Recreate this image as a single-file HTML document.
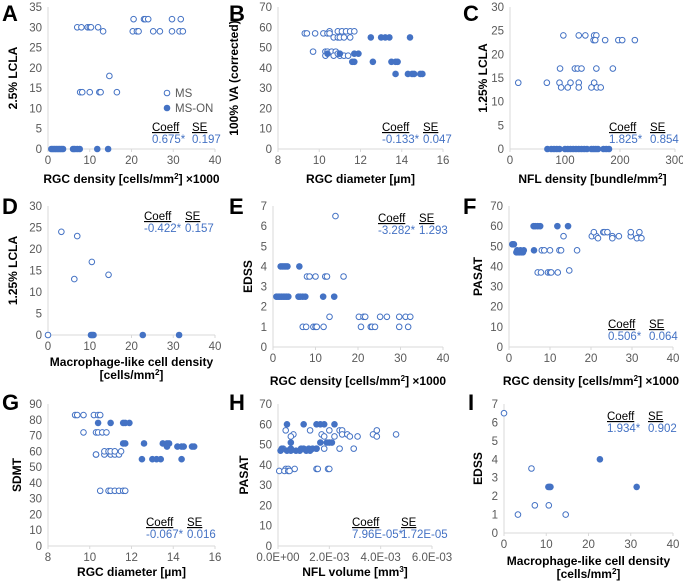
<!DOCTYPE html>
<html><head><meta charset="utf-8"><style>
html,body{margin:0;padding:0;background:#fff;}
svg{display:block;font-family:"Liberation Sans",sans-serif;}
.tk{font-size:11.5px;fill:#595959;}
.at{font-size:12px;font-weight:bold;fill:#000;}
.pl{font-size:22px;font-weight:bold;fill:#000;}
.cf{font-size:11.5px;fill:#4472c4;}
.ch{font-size:11.5px;fill:#000;text-decoration:underline;}
</style></head><body>
<svg id="fig" width="683" height="581" viewBox="0 0 683 581"></svg>
<script>
// Panel A: RGC density vs 2.5% LCLA
const aMsX=[7,8,9.5,10,10.3,12,13.2,20.5,23,23.3,24,29.7,31.8,20.3,21.3,21.7,25.2,26.8,29.7,31.5,32.3,14.7,7.7,8.2,10,12.3,12.6,16.5];
const aMsY=[30,30,30,30,30,30,29,32,32,32,32,32,32,29,29,29,29,29,29,29,29,18,14,14,14,14,14,14];
const aOnX=[0.8,1.2,1.6,2,2.4,2.8,3.2,3.6,6,6.4,7,7.6,11.8,14.4];
const aOnY=[0,0,0,0,0,0,0,0,0,0,0,0,0,0];
// Panel B
const bMsX=[9.3,9.4,9.8,10.2,10.4,10.5,10.5,10.9,11.1,11.3,11.5,11.7,10.7,10.9,11.0,11.2,11.5,9.7,10.3,10.4,10.6,10.8,10.3,10.7,11,11.2,11.4,10.9];
const bMsY=[57,57,57,57,57,58,57,58,58,58,58,58,55,55,55,55,55,48,48,48,48,48,46,46,46,46,46,47];
const bOnX=[10.4,11.0,11.7,11.9,11.6,11.7,12.6,12.5,13,13.2,13.4,14.4,13.5,13.7,13.8,13.7,14.3,14.5,14.6,14.9,15];
const bOnY=[47,47,47,47,43,43,43,55,55,55,55,55,43,43,43,37,37,37,37,37,37];
// Panel C
const cMsX=[15,67,90,110,125,153,93,105,125,148,158,165,91,118,123,130,157,187,97,125,137,153,157,152,155,173,197,204,227];
const cMsY=[14,14,14,14,14,14,13,13,13,13,13,13,17,17,17,17,17,17,24,24,24,24,24,23,23,23,23,23,23];
const cOnX=[68,75,80,85,90,100,105,110,115,120,125,130,135,140,148,152,156,160,170,175,180];
const cOnY=[0,0,0,0,0,0,0,0,0,0,0,0,0,0,0,0,0,0,0,0,0];
// Panel D
const dMsX=[0,3.2,7,10.5,6.3,14.5];
const dMsY=[0,24,23,17,13,14];
const dOnX=[10.3,10.6,10.9,22.7,31.4];
const dOnY=[0,0,0,0,0];
// Panel E
const eMsX=[14.7,8,8.6,10,12.3,12.7,16.6,13.3,20.2,21.3,21.7,25.2,26.8,29.7,31.2,32.3,7,7.8,9.5,10,10.3,11.9,20.7,23,23.3,24,29.7,31.8];
const eMsY=[6.5,3.5,3.5,3.5,3.5,3.5,3.5,1.5,1.5,1.5,1.5,1.5,1.5,1.5,1.5,1.5,1,1,1,1,1,1,1,1,1,1,1,1];
const eOnX=[1.8,2.2,2.6,3,3.4,6.2,0.8,1.2,1.6,2,2.4,2.8,3.2,3.6,6,6.4,7,7.6,11.8,14.4];
const eOnY=[4,4,4,4,4,4,2.5,2.5,2.5,2.5,2.5,2.5,2.5,2.5,2.5,2.5,2.5,2.5,2.5,2.5];
// Panel F
const fMsX=[7,7.8,9.5,10,10.3,11.9,14.7,13.3,8,8.6,10,12.3,12.7,16.6,20.2,21.3,25.2,26.8,29.7,20.7,23,23.3,24,29.7,31.8,21.7,25.2,31.2,32.3];
const fMsY=[37,37,37,37,37,37,38,55,48,48,48,48,48,48,55,55,55,55,55,57,57,57,57,57,57,54,54,54,54];
const fOnX=[6,6.4,7,7.6,11.8,14.4,0.8,1.2,6.1,1.8,2.2,2.6,3,3.4,2,2.8,3.6];
const fOnY=[60,60,60,60,60,60,51,51,48,47,47,47,47,47,48,48,48];
// Panel G
const gMsX=[9.3,9.4,9.7,10.2,10.4,10.5,9.7,10.3,10.4,10.6,10.8,10.3,10.3,10.7,11,11.2,11.4,10.7,10.9,11,11.2,11.5,10.5,10.9,11,11.2,11.4,11.6,11.7];
const gMsY=[83,83,83,83,83,83,72,72,72,72,72,58,58,58,58,58,58,60,60,60,60,60,35,35,35,35,35,35,35];
const gOnX=[10.4,11,11.6,11.7,11.9,11.6,11.7,12.6,13.5,13.7,13.8,13.7,14.2,14.4,14.5,14.9,15,12.5,13,13.2,13.4,14.4];
const gOnY=[78,78,78,78,78,65,65,65,65,65,65,63,63,63,63,63,63,55,55,55,55,55];
// Panel H (NFL volume, ×1e-3 mm³)
const hMsX=[0.3,1.25,2.0,2.4,2.5,3.85,0.6,1.7,2.5,2.7,3.7,4.6,0.5,1.8,2.2,2.8,3.1,3.85,0.2,1.5,1.8,2.4,2.95,0.3,0.4,0.65,1.5,1.55,1.95,2.0,0.05,0.25,0.4,0.45];
const hMsY=[57,57,57,57,57,57,55,55,55,55,55,55,54,54,54,54,54,54,48,48,48,48,48,38,38,38,38,38,38,38,37,37,37,37];
const hOnX=[0.35,1.0,1.5,1.65,1.8,2.2,0.5,1.65,1.9,2.0,2.1,0.15,0.5,0.9,1.0,1.2,1.35,1.5,0.1,0.35,0.5,0.7,0.85,1.1,1.25];
const hOnY=[60,60,60,60,60,60,51,51,51,51,51,48,48,48,48,48,48,48,47,47,47,47,47,47,47];
// Panel I
const iMsX=[0,6.5,7.3,10.6,3.3,14.6];
const iMsY=[6.5,3.5,1.5,1.5,1,1];
const iOnX=[10.5,10.8,11,22.7,31.4];
const iOnY=[2.5,2.5,2.5,4,2.5];
// Tick labels
const tickA=[0,5,10,15,20,25,30,35];
const tick70=[0,10,20,30,40,50,60,70];
const tick30=[0,5,10,15,20,25,30];
const tick7=[0,1,2,3,4,5,6,7];
const tick90=[0,10,20,30,40,50,60,70,80,90];
const xt40=[0,10,20,30,40];
const xt816=[8,10,12,14,16];
const xt300=[0,100,200,300];
const xtH=[0,2,4,6];
const xtHLab=["0.0E+00","2.0E-03","4.0E-03","6.0E-03"];
const coeffs=["0.675*","-0.133*","1.825*","-0.422*","-3.282*","0.506*","-0.067*","7.96E-05*","1.934*"];
const ses=["0.197","0.047","0.854","0.157","1.293","0.064","0.016","1.72E-05","0.902"];

const NS="http://www.w3.org/2000/svg";
const svg=document.getElementById('fig');
const C="#4472c4";
function mk(tag,attrs,parent){const e=document.createElementNS(NS,tag);for(const k in attrs)e.setAttribute(k,attrs[k]);(parent||svg).appendChild(e);return e;}
function txt(s,x,y,cls,anchor,parent){const t=mk('text',{x:x,y:y,class:cls,'text-anchor':anchor||'start'},parent);t.textContent=s;return t;}

function panel(p){
  const g=mk('g',{});
  
  
  const sx=v=>p.x0+(v-p.xmin)/(p.xmax-p.xmin)*(p.x1-p.x0);
  const sy=v=>p.yb-(v-p.ymin)/(p.ymax-p.ymin)*(p.yb-p.yt);
  const pl=txt(p.id,p.lx,p.ly,'pl','start',g);
  
  
  const ax=mk('line',{x1:p.x0,y1:p.yt,x2:p.x0,y2:p.yb,stroke:'#d9d9d9','stroke-width':1},g);
  
  
  const bx=mk('line',{x1:p.x0,y1:p.yb,x2:p.x1,y2:p.yb,stroke:'#d9d9d9','stroke-width':1},g);
  
  
  p.yticks.forEach(v=>{
    const t=txt(String(v),p.x0-6,sy(v)+4,'tk','end',g);
    
    
  });
  p.xticks.forEach((v,i)=>{
    mk('line',{x1:sx(v),y1:p.yb,x2:sx(v),y2:p.yb+3,stroke:'#d9d9d9'},g);
    const t=txt(p.xlab?p.xlab[i]:String(v),sx(v),p.yb+15,'tk','middle',g);
    
    
  });
  p.xtitle.forEach((s,i)=>{
    const t=txt('',(p.x0+p.x1)/2,p.xty+i*13,'at','middle',g);
    t.innerHTML=s;
    
    
  });
  const cy=(p.yt+p.yb)/2;
  const yt=txt(p.ytitle,p.ytx,cy,'at','middle',g);
  yt.setAttribute('transform','rotate(-90 '+p.ytx+' '+cy+')');
  
  
  p.msx.forEach((v,i)=>{
    const c=mk('circle',{cx:sx(v),cy:sy(p.msy[i]),r:2.8,fill:'#fff',stroke:C,'stroke-width':1},g);
    
    
  });
  p.onx.forEach((v,i)=>{
    const c=mk('circle',{cx:sx(v),cy:sy(p.ony[i]),r:3.3,fill:C},g);
    
    
  });
  const k=p.k;
  const h1=txt('Coeff',p.cx,p.cy,'ch','start',g);
  
  
  const h2=txt('SE',p.sx,p.cy,'ch','start',g);
  
  
  const v1=txt(coeffs[k],p.cx,p.cy+12,'cf','start',g);
  
  
  const v2=txt(ses[k],p.sx,p.cy+12,'cf','start',g);
  
  
}
const RGC='RGC density [cells/mm<tspan dy="-4" font-size="8">2</tspan><tspan dy="4">] ×1000</tspan>';
const MAC=['Macrophage-like cell density','[cells/mm<tspan dy="-4" font-size="8">2</tspan><tspan dy="4">]</tspan>'];
panel({id:'A',k:0,lx:2,ly:21,x0:48,x1:215,yt:7,yb:149,xmin:0,xmax:40,ymin:0,ymax:35,yticks:tickA,xticks:xt40,xtitle:[RGC],xty:183,ytitle:'2.5% LCLA',ytx:17,msx:aMsX,msy:aMsY,onx:aOnX,ony:aOnY,cx:152,cy:131,sx:192});
panel({id:'B',k:1,lx:229,ly:21,x0:278,x1:443,yt:7,yb:149,xmin:8,xmax:16,ymin:0,ymax:70,yticks:tick70,xticks:xt816,xtitle:['RGC diameter [µm]'],xty:183,ytitle:'100% VA (corrected)',ytx:238,msx:bMsX,msy:bMsY,onx:bOnX,ony:bOnY,cx:382,cy:131,sx:423});
panel({id:'C',k:2,lx:463,ly:21,x0:510,x1:675,yt:7,yb:149,xmin:0,xmax:300,ymin:0,ymax:30,yticks:tick30,xticks:xt300,xlab:null,xtitle:['NFL density [bundle/mm<tspan dy="-4" font-size="8">2</tspan><tspan dy="4">]</tspan>'],xty:183,ytitle:'1.25% LCLA',ytx:487,msx:cMsX,msy:cMsY,onx:cOnX,ony:cOnY,cx:609,cy:131,sx:650});
panel({id:'D',k:3,lx:2,ly:214,x0:48,x1:215,yt:206,yb:335,xmin:0,xmax:40,ymin:0,ymax:30,yticks:tick30,xticks:xt40,xtitle:MAC,xty:366,ytitle:'1.25% LCLA',ytx:17,msx:dMsX,msy:dMsY,onx:dOnX,ony:dOnY,cx:144,cy:220,sx:185});
panel({id:'E',k:4,lx:229,ly:214,x0:273,x1:443,yt:206,yb:347,xmin:0,xmax:40,ymin:0,ymax:7,yticks:tick7,xticks:xt40,xtitle:[RGC],xty:385,ytitle:'EDSS',ytx:252,msx:eMsX,msy:eMsY,onx:eOnX,ony:eOnY,cx:378,cy:222,sx:419});
panel({id:'F',k:5,lx:463,ly:214,x0:509,x1:673,yt:206,yb:347,xmin:0,xmax:40,ymin:0,ymax:70,yticks:tick70,xticks:xt40,xtitle:[RGC],xty:385,ytitle:'PASAT',ytx:482,msx:fMsX,msy:fMsY,onx:fOnX,ony:fOnY,cx:608,cy:328,sx:649});
panel({id:'G',k:6,lx:2,ly:410,x0:48,x1:215,yt:404,yb:546,xmin:8,xmax:16,ymin:0,ymax:90,yticks:tick90,xticks:xt816,xtitle:['RGC diameter [µm]'],xty:576,ytitle:'SDMT',ytx:21,msx:gMsX,msy:gMsY,onx:gOnX,ony:gOnY,cx:146,cy:526,sx:187});
panel({id:'H',k:7,lx:229,ly:410,x0:278,x1:432,yt:404,yb:546,xmin:0,xmax:6,ymin:0,ymax:70,yticks:tick70,xticks:xtH,xlab:xtHLab,xtitle:['NFL volume [mm<tspan dy="-4" font-size="8">3</tspan><tspan dy="4">]</tspan>'],xty:576,ytitle:'PASAT',ytx:248,msx:hMsX,msy:hMsY,onx:hOnX,ony:hOnY,cx:352,cy:526,sx:401});
panel({id:'I',k:8,lx:468,ly:410,x0:504,x1:673,yt:404,yb:533,xmin:0,xmax:40,ymin:0,ymax:7,yticks:tick7,xticks:xt40,xtitle:MAC,xty:565,ytitle:'EDSS',ytx:482,msx:iMsX,msy:iMsY,onx:iOnX,ony:iOnY,cx:607,cy:420,sx:648});
// legend in panel A
const lg=mk('g',{});


mk('circle',{cx:167,cy:93,r:2.8,fill:'#fff',stroke:C},lg);
txt('MS',175,97,'tk','start',lg);
mk('circle',{cx:167,cy:108,r:3.3,fill:C},lg);
txt('MS-ON',175,112,'tk','start',lg);
</script>
</body></html>
